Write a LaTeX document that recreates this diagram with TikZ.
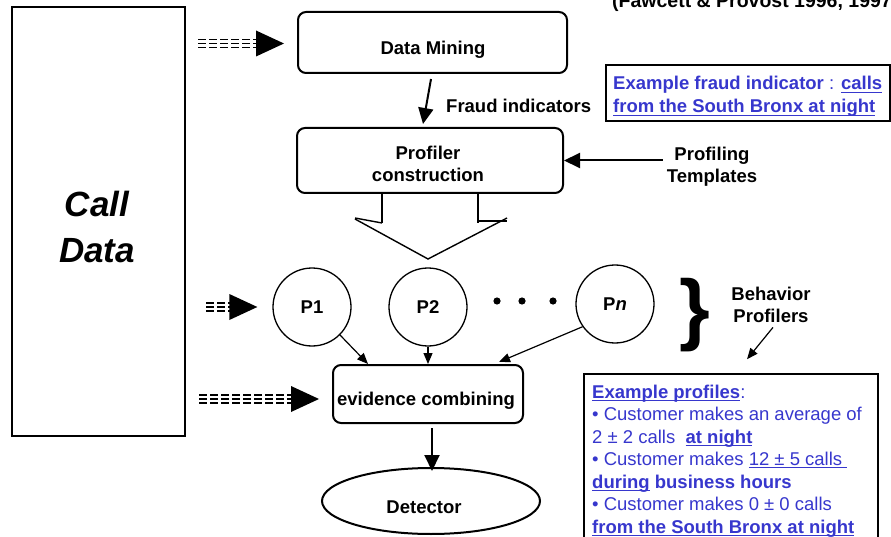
\documentclass[tikz,border=0pt]{standalone}
\usepackage{fontspec}
\setmainfont{Liberation Sans}
\usetikzlibrary{arrows.meta,calc,shapes.geometric}
\definecolor{noteblue}{RGB}{55,55,205}
% underline at a fixed depth below the baseline
\newsavebox\ulbox
\newcommand\myul[1]{\sbox\ulbox{#1}\rlap{\usebox\ulbox}\rule[-2.8pt]{\wd\ulbox}{1.1pt}}
% triple dashed feed line ending in a large solid triangle
\newcommand\feedarrow[2]{%
  \foreach \dy in {-4,0,4} {\draw[feedline] ($(#1)+(0,\dy)$) -- ($(#2)+(-22,\dy)$);}
  \fill (#2) -- ($(#2)+(-28,-13)$) -- ($(#2)+(-28,13)$) -- cycle;
}
\begin{document}
\begin{tikzpicture}[x=1pt,y=-1pt,
  lbl/.style={font=\fontsize{18.5}{22}\selectfont\bfseries, inner sep=0pt},
  notetxt/.style={font=\fontsize{18.5}{22.5}\selectfont, text=noteblue, inner sep=0pt, align=left},
  stagebox/.style={draw, line width=2pt, rounded corners=8pt, inner sep=0pt},
  profiler/.style={draw, circle, line width=1.3pt, minimum size=78pt, inner sep=0pt,
    font=\fontsize{18.5}{22}\selectfont\bfseries},
  notebox/.style={draw, line width=1.5pt, inner sep=0pt},
  flow/.style={line width=2pt, -{Triangle[length=16pt,width=15pt]}},
  merge/.style={line width=1.2pt, -{Triangle[length=11pt,width=9pt]}},
  feedline/.style={line width=1.1pt, dash pattern=on 8pt off 3pt},
  split/.style={line width=1.4pt}
]
\useasboundingbox (0,0) rectangle (891,537);
\clip (0,0) rectangle (891,537);

% source data (multi-line nodes are placed by the baseline of their last line)
\node[draw, line width=2pt, minimum width=173pt, minimum height=429pt, inner sep=0pt] (cd) at (98.5,221.5) {};
\node[lbl, font=\fontsize{35}{46}\selectfont\bfseries\itshape, align=center, anchor=base] (cdtext) at (97,262) {Call\\Data};

% header reference
\node[lbl, font=\fontsize{19.5}{22}\selectfont\bfseries, anchor=base west] (hdr) at (612,7.5) {(Fawcett \& Provost 1996, 1997)};

% processing stages
\node[stagebox, minimum width=269pt, minimum height=61pt] (dm) at (432.5,42.5) {};
\node[lbl, anchor=base] (dmtext) at (433,55) {Data Mining};

\node[stagebox, minimum width=266pt, minimum height=65pt] (pc) at (430,160.5) {};
\node[lbl, align=center, anchor=base] (pctext) at (428,182) {Profiler\\construction};

\node[stagebox, minimum width=190pt, minimum height=58pt] (ev) at (428,394) {};
\node[lbl, anchor=base] (evtext) at (426,405) {evidence combining};

\node[draw, ellipse, line width=2pt, minimum width=218pt, minimum height=66pt, inner sep=0pt] (det) at (431,501) {};
\node[lbl, anchor=base] (dettext) at (424,513) {Detector};

% behavior profilers
\node[profiler] (p1) at (312,307) {P1};
\node[profiler] (p2) at (428,307) {P2};
\node[profiler] (pn) at (615,304) {P\textit{n}};
\foreach \x in {497,522,553} \fill (\x,301) circle (3.6);
\node[inner sep=0pt, anchor=base, font=\fontsize{79}{79}\selectfont\bfseries] (brace) at (695,335) {\}};
\node[lbl, align=center, anchor=base] (bp) at (771,322) {Behavior\\Profilers};

% side labels
\node[lbl, anchor=base west] (fi) at (446,113) {Fraud indicators};
\node[lbl, align=center, anchor=base] (pt) at (712,183) {Profiling\\Templates};

% example notes
\node[notebox, minimum width=284pt, minimum height=56pt] (fbox) at (748,93) {};
\node[notetxt, font=\fontsize{18.5}{23}\selectfont, anchor=base west] (ftext) at (613,113)
  {\textbf{Example fraud indicator} : \myul{\textbf{calls}}\\\myul{\textbf{from the South Bronx at night}}};

\node[notebox, minimum width=294pt, minimum height=190pt] (pbox) at (731,469) {};
\node[notetxt, anchor=base west] (ptext) at (592,533)
  {\myul{\textbf{Example profiles}}:\\
   • Customer makes an average of\\
   2 ± 2 calls \ \myul{\textbf{at night}}\\
   • Customer makes \myul{12 ± 5 calls\ }\\
   \myul{\textbf{during}} \textbf{business hours}\\
   • Customer makes 0 ± 0 calls\\
   \myul{\textbf{from the South Bronx at night}}};

% connectors
\draw[flow] ($(dm.south)+(-1.5,5)$) -- ($(pc.north)+(-7,-3)$);
\draw[flow] ($(pt.west |- pc.east)+(-4,0)$) -- (pc.east);
\draw[flow] ($(ev.south)+(4,4)$) -- ($(det.north)+(1,4)$);

\draw[split] ($(pc.south)+(-48,0)$) -- ($(pc.south)+(-48,29)$);
\draw[split] ($(pc.south)+(-75,24)$) -- ($(pc.south)+(-48,29)$);
\draw[split] ($(pc.south)+(-75,25)$) -- ($(pc.south)+(-2,65)$) -- ($(pc.south)+(77,24)$);
\draw[split] ($(pc.south)+(48,0)$) -- ($(pc.south)+(48,29)$);
\draw[split] ($(pc.south)+(47,27)$) -- ($(pc.south)+(77,27)$);

\draw[merge] (p1.south east) -- ($(ev.north west)+(36,0)$);
\draw[merge] (p2.south) -- (p2.south |- ev.north);
\draw[merge] (pn.215) -- ($(ev.north east)+(-25,-2)$);
\draw[merge] ($(bp.south)+(2,5)$) -- ($(pbox.north)+(16,-14)$);

% feeds out of the call data
\path (cd.east |- dm.west) ++(12,1) coordinate (fa);
\path (dm.west) ++(-13,1) coordinate (fb);
\feedarrow{fa}{fb}
\path (cd.east |- p1.west) ++(20,0) coordinate (fc);
\path (p1.west) ++(-15,0) coordinate (fd);
\feedarrow{fc}{fd}
\path (cd.east |- ev.west) ++(13,5) coordinate (fe);
\path (ev.west) ++(-13,5) coordinate (ff);
\feedarrow{fe}{ff}
\end{tikzpicture}
\end{document}
